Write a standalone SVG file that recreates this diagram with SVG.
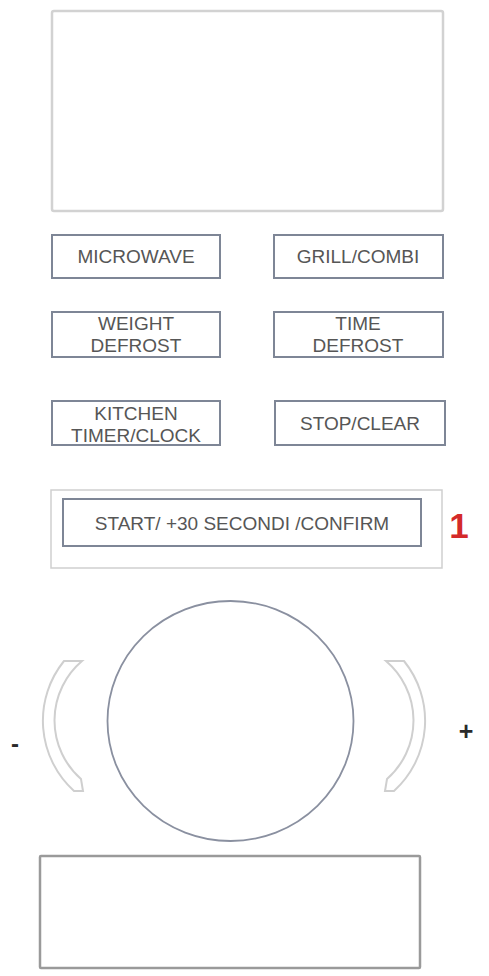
<svg xmlns="http://www.w3.org/2000/svg" width="489" height="976" viewBox="0 0 489 976">
<style>
.btn{fill:#fff;stroke:#7e8696;stroke-width:2}
.lbl{font-family:"Liberation Sans",Arial,sans-serif;font-size:19px;fill:#565656;text-anchor:middle}
.pale{fill:#fff;stroke:#d2d2d2;stroke-width:2.5}
.brk{fill:#fff;stroke:#cfcfcf;stroke-width:2}
.sign{font-family:"Liberation Sans",Arial,sans-serif;font-weight:bold;fill:#2a2a2a;text-anchor:middle}
</style>
<rect width="489" height="976" fill="#fff"/>
<g id="display"><rect class="pale" x="52" y="11" width="391" height="200" rx="2"/></g>
<g id="microwave"><rect class="btn" x="52" y="235" width="168" height="43"/><text class="lbl" x="136" y="263">MICROWAVE</text></g>
<g id="grill"><rect class="btn" x="274" y="235" width="169" height="43"/><text class="lbl" x="358" y="263">GRILL/COMBI</text></g>
<g id="weight"><rect class="btn" x="52" y="312" width="168" height="45"/><text class="lbl" x="136" y="330">WEIGHT</text><text class="lbl" x="136" y="352">DEFROST</text></g>
<g id="time"><rect class="btn" x="274" y="312" width="169" height="45"/><text class="lbl" x="358" y="330">TIME</text><text class="lbl" x="358" y="352">DEFROST</text></g>
<g id="kitchen"><rect class="btn" x="52" y="401" width="168" height="44"/><text class="lbl" x="136" y="420">KITCHEN</text><text class="lbl" x="136" y="442">TIMER/CLOCK</text></g>
<g id="stop"><rect class="btn" x="275" y="401" width="170" height="44"/><text class="lbl" x="360" y="430">STOP/CLEAR</text></g>
<g id="start"><rect x="51" y="490" width="391" height="78" fill="#fff" stroke="#cfcfcf" stroke-width="1.5"/><rect class="btn" x="63" y="499" width="358" height="47"/><text class="lbl" x="242" y="530">START/ +30 SECONDI /CONFIRM</text></g>
<g id="label1"><text x="459" y="538" font-family="'Liberation Sans',Arial,sans-serif" font-size="35" font-weight="bold" fill="#d42a2a" text-anchor="middle">1</text></g>
<g id="dial"><ellipse cx="230.5" cy="721" rx="123" ry="120" fill="#fff" stroke="#8a90a0" stroke-width="1.8"/></g>
<g id="minus-bracket"><path class="brk" d="M64,661 L82,661 A78,78 0 0,0 81,779 L83,791 L74,791 A95,95 0 0,1 64,661 Z"/><text class="sign" x="15" y="752" font-size="24">-</text></g>
<g id="plus-bracket"><path class="brk" transform="translate(468,0) scale(-1,1)" d="M64,661 L82,661 A78,78 0 0,0 81,779 L83,791 L74,791 A95,95 0 0,1 64,661 Z"/><text class="sign" x="466" y="740" font-size="25">+</text></g>
<g id="bottom-panel"><rect x="40" y="856" width="380" height="112" fill="#fff" stroke="#9a9a9a" stroke-width="2.5" rx="1"/></g>
<g id="connectors"/>
</svg>
